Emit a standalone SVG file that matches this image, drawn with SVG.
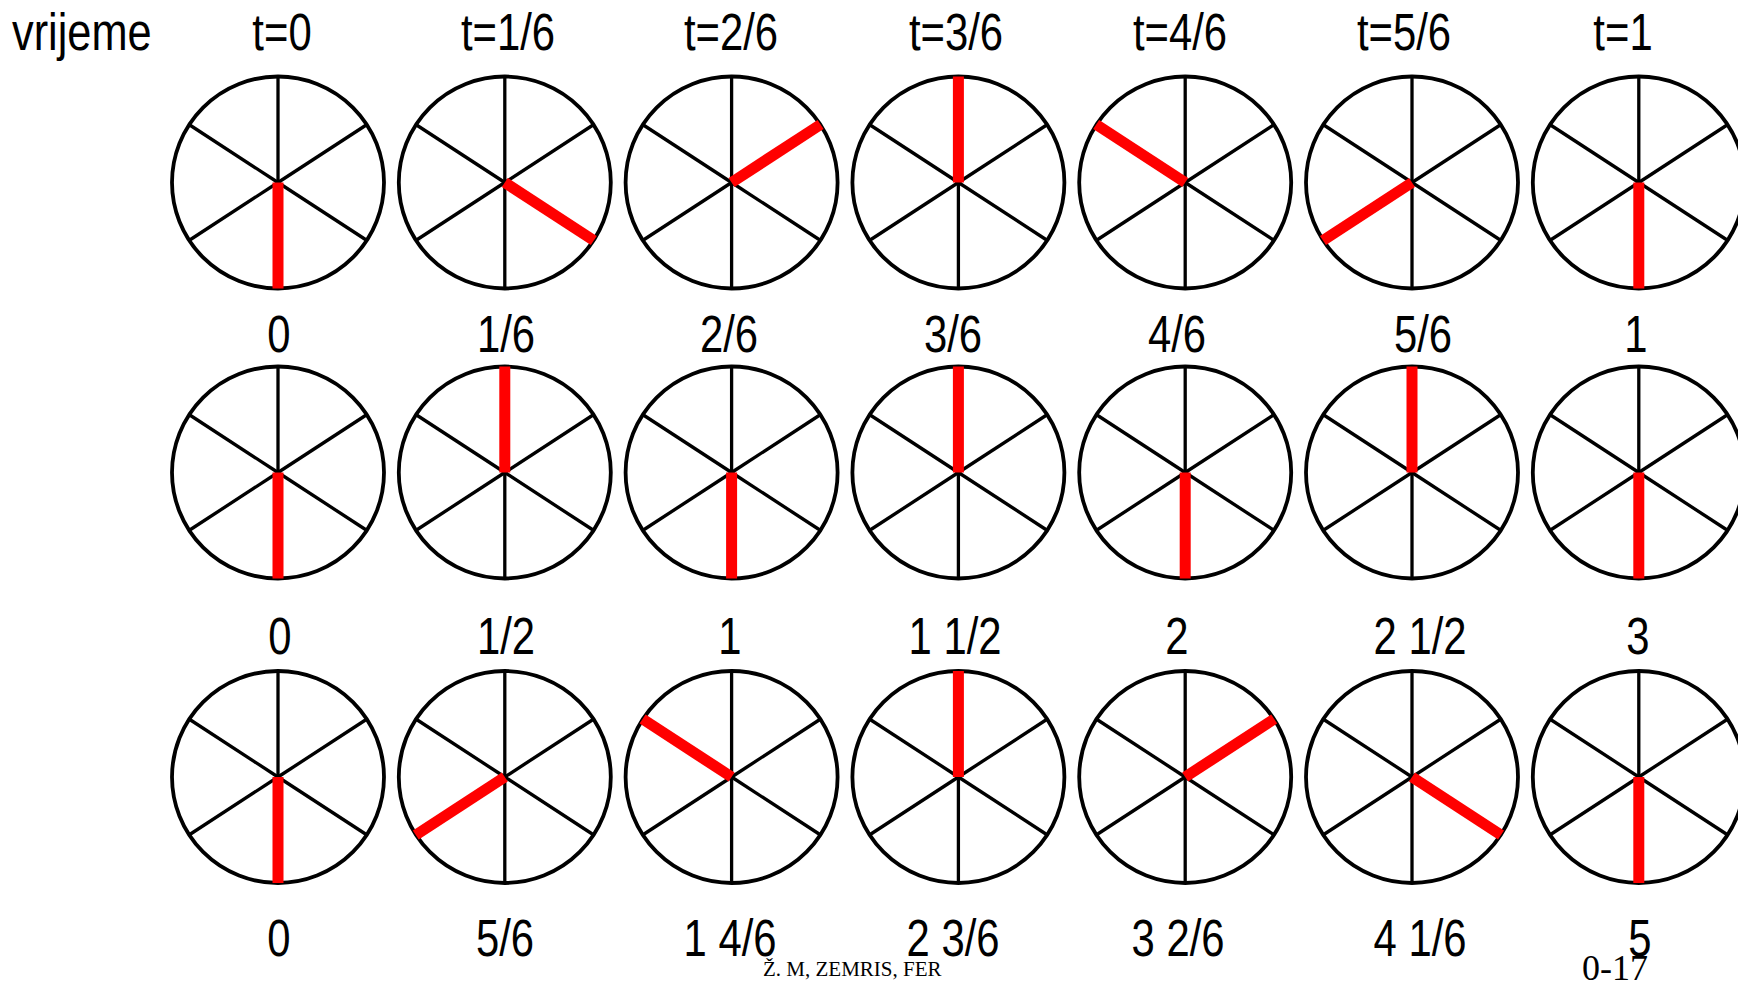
<svg xmlns="http://www.w3.org/2000/svg" xmlns:xlink="http://www.w3.org/1999/xlink" width="1738" height="983" viewBox="0 0 1738 983">
<style>
  .lbl { font-family: "Liberation Sans", Arial, sans-serif; font-size: 51px; fill: #000; text-anchor: middle; }
  .rim { fill: none; stroke: #000; stroke-width: 3.8; }
  .spoke { stroke: #000; stroke-width: 3.3; }
  .hand { stroke: #ff0000; stroke-width: 11; stroke-linecap: butt; }
  .foot { font-family: "Liberation Serif", "Times New Roman", serif; fill: #000; }
</style>
<defs>
  <g id="wheel">
    <circle class="rim" cx="0" cy="0" r="106"/>
    <line class="spoke" x1="0" y1="0" x2="0" y2="-106"/>
    <line class="spoke" x1="0" y1="0" x2="0" y2="106"/>
    <line class="spoke" x1="0" y1="0" x2="89" y2="-58"/>
    <line class="spoke" x1="0" y1="0" x2="89" y2="58"/>
    <line class="spoke" x1="0" y1="0" x2="-89" y2="58"/>
    <line class="spoke" x1="0" y1="0" x2="-89" y2="-58"/>
  </g>
  <line id="hDown" class="hand" x1="0" y1="0" x2="0" y2="106"/>
  <line id="hUp" class="hand" x1="0" y1="0" x2="0" y2="-106"/>
  <line id="h2" class="hand" x1="0" y1="0" x2="89" y2="-58"/>
  <line id="h4" class="hand" x1="0" y1="0" x2="89" y2="58"/>
  <line id="h8" class="hand" x1="0" y1="0" x2="-89" y2="58"/>
  <line id="h10" class="hand" x1="0" y1="0" x2="-89" y2="-58"/>
</defs>

<g id="labels">
  <text class="lbl" transform="translate(12,50) scale(0.85,1)" style="text-anchor:start">vrijeme</text>
  <text class="lbl" transform="translate(282,50) scale(0.82,1)">t=0</text>
  <text class="lbl" transform="translate(508,50) scale(0.82,1)">t=1/6</text>
  <text class="lbl" transform="translate(731,50) scale(0.82,1)">t=2/6</text>
  <text class="lbl" transform="translate(956,50) scale(0.82,1)">t=3/6</text>
  <text class="lbl" transform="translate(1180,50) scale(0.82,1)">t=4/6</text>
  <text class="lbl" transform="translate(1404,50) scale(0.82,1)">t=5/6</text>
  <text class="lbl" transform="translate(1623,50) scale(0.82,1)">t=1</text>

  <text class="lbl" transform="translate(279,352) scale(0.82,1)">0</text>
  <text class="lbl" transform="translate(506,352) scale(0.82,1)">1/6</text>
  <text class="lbl" transform="translate(729,352) scale(0.82,1)">2/6</text>
  <text class="lbl" transform="translate(953,352) scale(0.82,1)">3/6</text>
  <text class="lbl" transform="translate(1177,352) scale(0.82,1)">4/6</text>
  <text class="lbl" transform="translate(1423,352) scale(0.82,1)">5/6</text>
  <text class="lbl" transform="translate(1636,352) scale(0.82,1)">1</text>

  <text class="lbl" transform="translate(280,654) scale(0.82,1)">0</text>
  <text class="lbl" transform="translate(506,654) scale(0.82,1)">1/2</text>
  <text class="lbl" transform="translate(730,654) scale(0.82,1)">1</text>
  <text class="lbl" transform="translate(955,654) scale(0.82,1)">1 1/2</text>
  <text class="lbl" transform="translate(1177,654) scale(0.82,1)">2</text>
  <text class="lbl" transform="translate(1420,654) scale(0.82,1)">2 1/2</text>
  <text class="lbl" transform="translate(1638,654) scale(0.82,1)">3</text>

  <text class="lbl" transform="translate(279,956) scale(0.82,1)">0</text>
  <text class="lbl" transform="translate(505,956) scale(0.82,1)">5/6</text>
  <text class="lbl" transform="translate(730,956) scale(0.82,1)">1 4/6</text>
  <text class="lbl" transform="translate(953,956) scale(0.82,1)">2 3/6</text>
  <text class="lbl" transform="translate(1178,956) scale(0.82,1)">3 2/6</text>
  <text class="lbl" transform="translate(1420,956) scale(0.82,1)">4 1/6</text>
  <text class="lbl" transform="translate(1640,956) scale(0.82,1)">5</text>

  <text class="foot" x="763" y="976" font-size="21">Ž. M, ZEMRIS, FER</text>
  <text class="foot" x="1582" y="980" font-size="36">0-17</text>
</g>

<g id="connectors"></g>

<!-- Row 1 -->
<g id="r1c1" transform="translate(278,182.5)"><use xlink:href="#wheel" href="#wheel"/><use xlink:href="#hDown" href="#hDown"/></g>
<g id="r1c2" transform="translate(504.8,182.5)"><use xlink:href="#wheel" href="#wheel"/><use xlink:href="#h4" href="#h4"/></g>
<g id="r1c3" transform="translate(731.6,182.5)"><use xlink:href="#wheel" href="#wheel"/><use xlink:href="#h2" href="#h2"/></g>
<g id="r1c4" transform="translate(958.4,182.5)"><use xlink:href="#wheel" href="#wheel"/><use xlink:href="#hUp" href="#hUp"/></g>
<g id="r1c5" transform="translate(1185.2,182.5)"><use xlink:href="#wheel" href="#wheel"/><use xlink:href="#h10" href="#h10"/></g>
<g id="r1c6" transform="translate(1412,182.5)"><use xlink:href="#wheel" href="#wheel"/><use xlink:href="#h8" href="#h8"/></g>
<g id="r1c7" transform="translate(1638.8,182.5)"><use xlink:href="#wheel" href="#wheel"/><use xlink:href="#hDown" href="#hDown"/></g>

<!-- Row 2 -->
<g id="r2c1" transform="translate(278,472.5)"><use xlink:href="#wheel" href="#wheel"/><use xlink:href="#hDown" href="#hDown"/></g>
<g id="r2c2" transform="translate(504.8,472.5)"><use xlink:href="#wheel" href="#wheel"/><use xlink:href="#hUp" href="#hUp"/></g>
<g id="r2c3" transform="translate(731.6,472.5)"><use xlink:href="#wheel" href="#wheel"/><use xlink:href="#hDown" href="#hDown"/></g>
<g id="r2c4" transform="translate(958.4,472.5)"><use xlink:href="#wheel" href="#wheel"/><use xlink:href="#hUp" href="#hUp"/></g>
<g id="r2c5" transform="translate(1185.2,472.5)"><use xlink:href="#wheel" href="#wheel"/><use xlink:href="#hDown" href="#hDown"/></g>
<g id="r2c6" transform="translate(1412,472.5)"><use xlink:href="#wheel" href="#wheel"/><use xlink:href="#hUp" href="#hUp"/></g>
<g id="r2c7" transform="translate(1638.8,472.5)"><use xlink:href="#wheel" href="#wheel"/><use xlink:href="#hDown" href="#hDown"/></g>

<!-- Row 3 -->
<g id="r3c1" transform="translate(278,777)"><use xlink:href="#wheel" href="#wheel"/><use xlink:href="#hDown" href="#hDown"/></g>
<g id="r3c2" transform="translate(504.8,777)"><use xlink:href="#wheel" href="#wheel"/><use xlink:href="#h8" href="#h8"/></g>
<g id="r3c3" transform="translate(731.6,777)"><use xlink:href="#wheel" href="#wheel"/><use xlink:href="#h10" href="#h10"/></g>
<g id="r3c4" transform="translate(958.4,777)"><use xlink:href="#wheel" href="#wheel"/><use xlink:href="#hUp" href="#hUp"/></g>
<g id="r3c5" transform="translate(1185.2,777)"><use xlink:href="#wheel" href="#wheel"/><use xlink:href="#h2" href="#h2"/></g>
<g id="r3c6" transform="translate(1412,777)"><use xlink:href="#wheel" href="#wheel"/><use xlink:href="#h4" href="#h4"/></g>
<g id="r3c7" transform="translate(1638.8,777)"><use xlink:href="#wheel" href="#wheel"/><use xlink:href="#hDown" href="#hDown"/></g>
</svg>
